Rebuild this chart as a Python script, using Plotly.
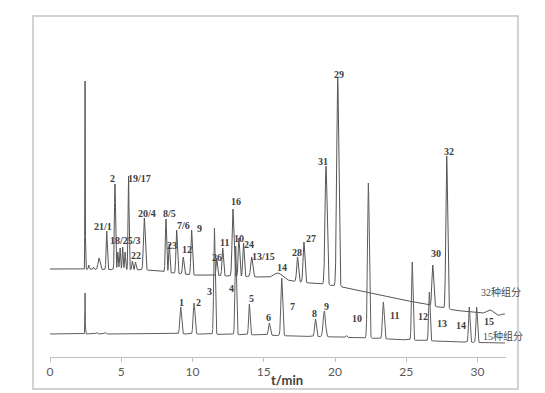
import numpy as np
import plotly.graph_objects as go

# ---------------- data ----------------
# x: retention time (min); y: detector signal (arbitrary units)

# 32-component trace
top_base_t = [0, 6.8, 8, 10, 12.5, 14.6, 15.5, 17, 18.2, 19, 20.5, 26.5, 28.3, 30, 32]
top_base_y = [88, 87, 85, 82, 81, 80, 79, 76, 74, 73, 70, 52, 47, 44, 43]
top_peak_t = [2.46, 2.72, 3.05, 3.44, 3.98, 4.56, 4.76, 4.92, 5.10, 5.27, 5.51, 5.78, 6.00,
              6.62, 8.14, 8.37, 8.89, 9.35, 9.94, 11.70, 12.12, 12.84, 13.26, 13.58, 14.15,
              16.00, 17.37, 17.82, 19.37, 20.19, 26.86, 27.84, 30.88, 31.45]
top_peak_apex = [276, 92, 90, 99, 126, 173, 105, 109, 110, 105, 181, 96, 95,
                 139, 138, 113, 127, 100, 127, 99, 109, 148, 119, 114, 100,
                 84, 100, 115, 191, 279, 92, 201, 47, 41.5]
top_peak_sigma = [0.015, 0.03, 0.03, 0.07, 0.04, 0.04, 0.035, 0.035, 0.035, 0.035, 0.035, 0.04, 0.04,
                  0.06, 0.045, 0.04, 0.05, 0.05, 0.05, 0.045, 0.05, 0.06, 0.05, 0.05, 0.07,
                  0.3, 0.06, 0.06, 0.07, 0.07, 0.06, 0.06, 0.2, 0.15]

# 15-component trace
bot_base_t = [0, 10, 15, 17, 20, 23, 26, 30, 32]
bot_base_y = [23, 23, 22, 21, 20, 18.5, 16.5, 14.5, 14]
bot_peak_t = [2.46, 3.27, 3.86, 9.17, 10.11, 11.54, 13.03, 13.99, 15.39, 16.26, 18.63, 19.25,
              20.80, 22.34, 23.39, 25.42, 26.62, 29.42, 29.94]
bot_peak_apex = [64, 24.5, 24.5, 50, 54, 129, 111, 53, 34, 79, 38, 46,
                 21.5, 174, 55, 95, 65, 50, 50]
bot_peak_sigma = [0.015, 0.05, 0.05, 0.06, 0.06, 0.05, 0.05, 0.05, 0.06, 0.06, 0.06, 0.08,
                  0.05, 0.06, 0.06, 0.05, 0.05, 0.05, 0.05]

# peak labels (text, time, signal)
top_labels = ["21/1", "2", "19/17", "18/25/3", "22", "20/4", "8/5", "23", "7/6", "12", "9",
              "16", "26", "11", "10", "24", "13/15", "14", "28", "27", "31", "29", "30", "32"]
top_label_t = [3.72, 4.40, 6.25, 5.30, 6.00, 6.79, 8.42, 8.56, 9.40, 9.58, 10.46,
               13.05, 11.70, 12.28, 13.26, 13.96, 14.97, 16.26, 17.35, 18.29, 19.18, 20.30, 27.09, 27.98]
top_label_y = [131, 179, 179, 117, 102, 144, 144, 112, 132, 108, 129,
               156, 100, 115, 119, 113, 101, 90, 105, 119, 196, 283, 104, 206]
bot_labels = [str(i) for i in range(1, 16)]
bot_label_t = [9.24, 10.44, 11.16, 12.75, 14.13, 15.35, 17.0, 18.53, 19.42, 21.52, 24.14,
               26.20, 27.53, 28.82, 30.83]
bot_label_y = [55, 55, 66, 69, 59, 40, 51, 44, 51, 39, 42, 41, 34, 32, 36]

series_names = ["32种组分", "15种组分"]
series_label_t = [31.62, 31.82]
series_label_y = [65, 21]

x_ticks = [0, 5, 10, 15, 20, 25, 30]

# ---------------- build curves ----------------
t = np.arange(0, 31.93, 0.004)


def chromatogram(base_t, base_y, pt, pa, ps):
    base = np.interp(t, base_t, base_y)
    y = base.copy()
    for c, a, s in zip(pt, pa, ps):
        amp = a - np.interp(c, base_t, base_y)
        y += amp * np.exp(-0.5 * ((t - c) / s) ** 2)
    return y


y_top = chromatogram(top_base_t, top_base_y, top_peak_t, top_peak_apex, top_peak_sigma)
y_bot = chromatogram(bot_base_t, bot_base_y, bot_peak_t, bot_peak_apex, bot_peak_sigma)

fig = go.Figure()
fig.add_trace(go.Scatter(x=t, y=y_top, mode="lines", line=dict(color="#555555", width=1),
                         name=series_names[0], hoverinfo="skip"))
fig.add_trace(go.Scatter(x=t, y=y_bot, mode="lines", line=dict(color="#5e5e5e", width=1),
                         name=series_names[1], hoverinfo="skip"))

label_font = dict(family="Liberation Serif, DejaVu Serif, serif", size=10, color="#404040")
ann = []
for txt, lx, ly in zip(top_labels + bot_labels, top_label_t + bot_label_t, top_label_y + bot_label_y):
    ann.append(dict(x=lx, y=ly, xref="x", yref="y", text="<b>" + txt + "</b>", showarrow=False,
                    font=label_font, xanchor="center", yanchor="middle"))
for txt, lx, ly in zip(series_names, series_label_t, series_label_y):
    ann.append(dict(x=lx, y=ly, xref="x", yref="y", text=txt, showarrow=False,
                    font=dict(family="Liberation Serif, Noto Sans CJK SC", size=10, color="#4a4a4a"),
                    xanchor="center", yanchor="middle"))
ann.append(dict(x=0.52, y=-0.068, xref="paper", yref="paper", text="<b>t/min</b>", showarrow=False,
                font=dict(family="Lato, Liberation Sans, sans-serif", size=13, color="#404040"),
                xanchor="center", yanchor="middle"))

# page body has an 8px default margin, so margins are shifted by 8px
fig.update_layout(
    width=545, height=393,
    margin=dict(l=42, r=47, t=8, b=44),
    paper_bgcolor="white", plot_bgcolor="white",
    showlegend=False,
    annotations=ann,
    shapes=[dict(type="rect", xref="paper", yref="paper", x0=-0.0373, x1=1.0263, y0=-0.094, y1=1.0,
                 line=dict(color="#c4c4c4", width=1.5), fillcolor="rgba(0,0,0,0)", layer="below")],
    xaxis=dict(range=[0, 32], tickvals=x_ticks, ticktext=[str(v) for v in x_ticks],
               showline=True, linecolor="#bfbfbf", linewidth=1, ticks="outside", ticklen=4,
               tickcolor="#bfbfbf", showgrid=False, zeroline=False,
               tickfont=dict(family="Lato, Liberation Sans, sans-serif", size=12, color="#595959")),
    yaxis=dict(range=[0, 341], visible=False, showgrid=False, zeroline=False),
)

fig.write_html("out.html")
